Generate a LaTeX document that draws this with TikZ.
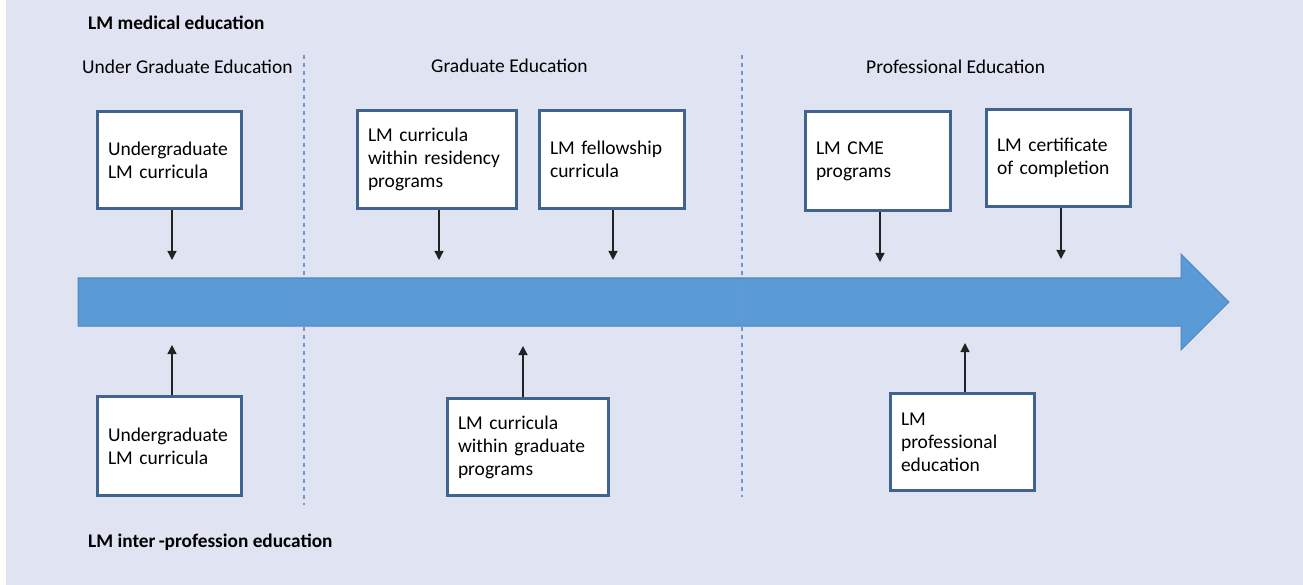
\documentclass[tikz,border=0pt]{standalone}
\usepackage{fontspec}
\setmainfont{Carlito}
\usetikzlibrary{arrows.meta}
\definecolor{bgcol}{HTML}{E0E3F2}
\definecolor{boxblue}{HTML}{41638F}
\definecolor{bigarrow}{HTML}{5B9BD5}
\definecolor{bigarrowline}{HTML}{4F86C0}
\definecolor{dashblue}{HTML}{6A97D2}
\definecolor{arrline}{HTML}{222222}
\tikzset{
  bx/.style={draw=boxblue, line width=3pt, fill=white, rectangle,
    inner xsep=10.5pt, inner ysep=0pt, align=left,
    font=\fontsize{19.5}{23}\selectfont},
  head/.style={anchor=west, inner sep=0pt, font=\fontsize{19.5}{22}\selectfont},
  bhead/.style={anchor=west, inner sep=0pt, font=\fontsize{19.3}{21}\selectfont\bfseries},
  arr/.style={draw=arrline, line width=1.3pt, -{Triangle[width=9pt,length=9pt]}},
  sep/.style={draw=dashblue, line width=1.2pt, dash pattern=on 4pt off 4pt},
}
\begin{document}
\begin{tikzpicture}[x=1pt,y=-1pt]
\useasboundingbox (0,0) rectangle (1303,585);
\fill[bgcol] (6,0) rectangle (1303,585);

% big timeline arrow
\filldraw[fill=bigarrow, draw=bigarrowline, line width=1pt]
  (78,278) -- (1181,278) -- (1181,254) -- (1229,302) -- (1181,350) -- (1181,326) -- (78,326) -- cycle;

% separators
\coordinate (s1t) at (304,55); \coordinate (s1b) at (304,505);
\coordinate (s2t) at (742,55); \coordinate (s2b) at (742,497);
\draw[sep] (s1t) -- (s1b);
\draw[sep] (s2t) -- (s2b);

% headings
\node[bhead] (lmmed) at (88,23) {LM medical education};
\node[head] (ug) at (82,67) {Under Graduate Education};
\node[head] (gr) at (431,66) {Graduate Education};
\node[head] (pr) at (866,67) {Professional Education};
\node[bhead] (lmint) at (88,542) {LM inter\,-profession education};

% top boxes
\node[bx, minimum width=144pt, minimum height=97pt, text width=123pt] (b1) at (169.5,160) {Undergraduate\\LM curricula};
\node[bx, minimum width=159pt, minimum height=98pt, text width=138pt] (b2) at (437,159.5) {LM curricula\\within residency\\programs};
\node[bx, minimum width=145pt, minimum height=98pt, text width=124pt] (b3) at (612,159.5) {LM fellowship\\curricula};
\node[bx, minimum width=145pt, minimum height=99pt, text width=124pt] (b4) at (878,161) {LM CME\\programs};
\node[bx, minimum width=144pt, minimum height=97pt, text width=123pt] (b5) at (1058.5,158) {LM certificate\\of completion};

% bottom boxes
\node[bx, minimum width=144pt, minimum height=99pt, text width=123pt] (b6) at (169.5,446) {Undergraduate\\LM curricula};
\node[bx, minimum width=161pt, minimum height=97pt, text width=140pt] (b7) at (528,447) {LM curricula\\within graduate\\programs};
\node[bx, minimum width=144pt, minimum height=97pt, text width=123pt] (b8) at (962.5,442) {LM\\professional\\education};

% arrow end points
\coordinate (a1) at (172,260);
\coordinate (a2) at (439,260);
\coordinate (a3) at (613,260);
\coordinate (a4) at (880,262);
\coordinate (a5) at (1061,259);
\coordinate (a6) at (172,345);
\coordinate (a7) at (523,346);
\coordinate (a8) at (965,343);

\draw[arr] (a1 |- b1.south) -- (a1);
\draw[arr] (a2 |- b2.south) -- (a2);
\draw[arr] (a3 |- b3.south) -- (a3);
\draw[arr] (a4 |- b4.south) -- (a4);
\draw[arr] (a5 |- b5.south) -- (a5);
\draw[arr] (a6 |- b6.north) -- (a6);
\draw[arr] (a7 |- b7.north) -- (a7);
\draw[arr] (a8 |- b8.north) -- (a8);
\end{tikzpicture}
\end{document}
